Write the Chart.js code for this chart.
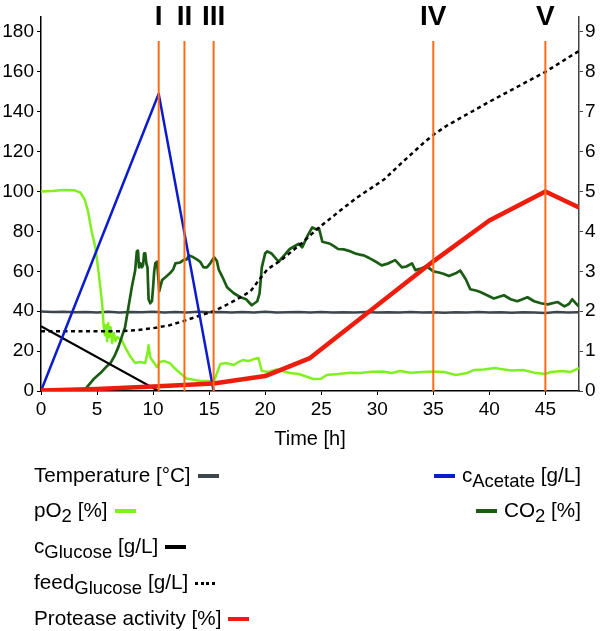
<!DOCTYPE html>
<html>
<head>
<meta charset="utf-8">
<script src="https://cdn.jsdelivr.net/npm/chart.js@4.4.1/dist/chart.umd.min.js"></script>
<style>
  html,body{margin:0;padding:0;background:#fff;}
  #wrap{position:relative;width:600px;height:631px;overflow:hidden;font-family:"Liberation Sans",Arial,Helvetica,sans-serif;color:#000;}
  canvas{position:absolute;left:0;top:0;}
  .lg{position:absolute;font-size:20.7px;line-height:20px;white-space:nowrap;}
  .s{font-size:18.5px;position:relative;top:5px;}
  .sw{display:inline-block;width:21px;height:4px;vertical-align:4px;}
  .ml{margin-left:7px;}
  .mr{margin-right:7px;}
  .dot{height:3px;vertical-align:4px;background:repeating-linear-gradient(90deg,#000 0 3px,transparent 3px 5.5px);}
</style>
</head>
<body>
<div id="wrap">
<canvas id="c" width="600" height="631"></canvas>
<div class="lg" style="left:34px;top:465px">Temperature [°C]<span class="sw ml" style="background:#3e464c"></span></div>
<div class="lg" style="left:34px;top:500px">pO<span class="s">2</span> [%]<span class="sw ml" style="background:#80f020"></span></div>
<div class="lg" style="left:34px;top:536px">c<span class="s">Glucose</span> [g/L]<span class="sw ml" style="background:#000"></span></div>
<div class="lg" style="left:34px;top:572px">feed<span class="s">Glucose</span> [g/L]<span class="sw ml dot"></span></div>
<div class="lg" style="left:34px;top:608px">Protease activity [%]<span class="sw ml" style="background:#ee1c0c"></span></div>
<div class="lg" style="right:19px;top:465px;text-align:right"><span class="sw mr" style="background:#0c1ccc"></span>c<span class="s">Acetate</span> [g/L]</div>
<div class="lg" style="right:19px;top:500px;text-align:right"><span class="sw mr" style="background:#1b5c14"></span>CO<span class="s">2</span> [%]</div>
</div>
<script>
// ---- axis ticks ----
const xTicks = [0,5,10,15,20,25,30,35,40,45];
const yTicks = [0,20,40,60,80,100,120,140,160,180];
const y1Ticks = [0,1,2,3,4,5,6,7,8,9];

// ---- process phases ----
const eventTimes = [10.5, 12.8, 15.4, 35, 45];
const eventLabels = ['I','II','III','IV','V'];
const eventTop = 175.5;

// ---- left axis series [t, value] ----
const temperature = [[0,39.8],[1,39.6],[2,39.7],[3,39.5],[4,39.6],[5,39.4],[6,39.7],[7,39.3],[8,39.6],[9,39.5],[10,39.7],[11,39.4],[12,39.6],[13,39.3],[14,39.7],[15,39.5],[16,39.6],[17,39.3],[18,39.6],[19,39.4],[20,39.7],[21,39.3],[22,39.5],[23,39.6],[24,39.3],[25,39.6],[26,39.4],[27,39.5],[28,39.3],[29,39.6],[30,39.4],[31,39.5],[32,39.3],[33,39.6],[34,39.4],[35,39.5],[36,39.2],[37,39.5],[38,39.3],[39,39.6],[40,39.4],[41,39.5],[42,39.2],[43,39.5],[44,39.3],[45,39.1],[46,39.6],[47,39.3],[48,39.5]];
const pO2 = [[0,100],[1,100.3],[2,100.8],[3,100.6],[3.5,99.5],[3.9,96],[4.2,90],[4.5,80.5],[4.85,72],[5.15,59],[5.45,44],[5.6,32],[5.7,28],[5.8,33],[5.9,25],[6.0,34],[6.1,27],[6.2,32],[6.35,24],[6.5,29],[6.65,25],[6.8,27],[7.2,25.5],[7.6,21],[8,17],[8.4,14],[8.8,14.5],[9.3,14],[9.5,19],[9.6,23],[9.75,17],[9.9,15.5],[10.35,12],[10.65,14.7],[11.0,15],[11.5,14],[12.0,11],[12.4,9],[13,6.3],[14.2,5],[15.25,5],[15.4,4.5],[15.7,9],[16,13.5],[16.5,14],[17.2,13],[17.6,14.5],[18,15.5],[18.5,15],[19,16],[19.4,16.5],[19.7,10],[20.3,9.5],[21,10.8],[22.2,9],[23,8.5],[24.3,6],[25,6.2],[25.5,8],[26.5,8.5],[27.6,9.2],[28.5,9],[29.5,9.6],[30.5,9.8],[31.3,9],[32,10],[33,9.2],[34,9.5],[35,9.8],[36,9.5],[37,8],[38,9],[38.6,10.5],[39.5,10.8],[40.5,11.5],[41,11],[42,10.3],[43,10.5],[44,9.2],[45,8.5],[45.5,9.5],[46.5,10],[47.2,9.5],[48,11.5]];
const cGlucose = [[0,32.5],[10.4,0.3]];
const protease = [[0,0.3],[5,1],[10,2.3],[15.4,3.8],[20,7.5],[24,16.5],[35,65],[40,85.5],[45,100],[48,92]];

// ---- right axis series [t, value] ----
const cAcetate = [[0,0],[10.5,7.45],[15.4,0]];
const feedGlucose = [[0,1.5],[7,1.5],[8.5,1.525],[10,1.575],[11.5,1.65],[12.7,1.75],[14,1.875],[15.4,2.0],[16.5,2.15],[17.5,2.3],[18.7,2.5],[19.5,2.8],[20.2,3.05],[21.4,3.275],[23.2,3.69],[24.6,4.05],[26.7,4.525],[28.2,4.85],[30.6,5.3],[32.4,5.775],[34.2,6.235],[35.1,6.44],[36.2,6.65],[40,7.25],[45,8.0],[48,8.525]];
const co2 = [[3.9,0],[4.1,0.1],[4.7,0.3],[5.3,0.45],[5.8,0.6],[6.2,0.7],[6.6,0.9],[6.9,1.1],[7.2,1.35],[7.5,1.6],[7.8,2.1],[8.1,2.6],[8.4,3.02],[8.55,3.5],[8.65,3.52],[8.75,3.1],[8.86,3.2],[9.0,3.1],[9.1,3.15],[9.2,3.45],[9.3,3.45],[9.4,3.2],[9.5,3.1],[9.6,2.3],[9.75,2.2],[9.9,2.25],[10.0,2.6],[10.1,3.0],[10.2,3.2],[10.35,3.24],[10.45,2.9],[10.55,2.5],[10.8,2.78],[11.1,2.85],[11.5,2.95],[11.8,3.05],[12,3.2],[12.4,3.22],[12.7,3.28],[13.0,3.3],[13.2,3.4],[13.6,3.35],[13.9,3.3],[14.2,3.24],[14.5,3.1],[14.8,3.1],[15.1,3.2],[15.45,3.35],[15.7,3.25],[15.85,3.05],[16.2,2.85],[16.6,2.6],[17.2,2.45],[17.8,2.35],[18.3,2.3],[18.8,2.15],[19.3,2.25],[19.5,2.45],[19.7,3.1],[20.0,3.45],[20.2,3.5],[20.6,3.44],[21.2,3.24],[21.7,3.4],[22.2,3.56],[23,3.69],[23.3,3.6],[23.8,3.9],[24.2,4.1],[24.6,4.05],[24.8,4.08],[25.1,3.74],[25.8,3.69],[26.2,3.62],[26.5,3.56],[27,3.55],[27.4,3.52],[28,3.45],[28.4,3.42],[28.8,3.4],[29.1,3.36],[29.5,3.3],[30,3.22],[30.4,3.15],[31,3.2],[31.6,3.28],[32.2,3.1],[32.6,3.12],[33.1,3.2],[33.4,3.03],[33.8,3.06],[34.4,3.13],[35,3.0],[35.5,2.97],[35.9,2.94],[36.4,2.88],[37,2.95],[37.4,3.02],[37.9,2.8],[38.3,2.55],[38.8,2.52],[39.2,2.48],[39.8,2.4],[40.4,2.32],[41.3,2.4],[41.9,2.3],[42.5,2.25],[43.4,2.35],[44,2.25],[44.6,2.2],[45.2,2.17],[46.1,2.23],[46.7,2.12],[47.1,2.18],[47.4,2.3],[47.7,2.2],[48,2.12]];

const xy = a => a.map(p => ({x:p[0], y:p[1]}));
const FONT = '"Liberation Sans", Arial, Helvetica, sans-serif';

function line(data, color, width, axis, extra) {
  return Object.assign({data: xy(data), borderColor: color, backgroundColor: color, borderWidth: width,
    yAxisID: axis, pointRadius: 0, tension: 0, fill: false, borderJoinStyle: 'round'}, extra || {});
}

const markerSets = eventTimes.map(t => line([[t,0],[t,eventTop]], '#ff6b16', 2, 'y'));

const datasets = [
  ...markerSets,
  line(protease, '#ee1c0c', 4.5, 'y'),
  line(cAcetate, '#0c1ccc', 2.5, 'y1'),
  line(cGlucose, '#000000', 2.2, 'y'),
  line(feedGlucose, '#000000', 2.5, 'y1', {borderDash:[4,3.5], borderCapStyle:'butt'}),
  line(co2, '#1b5c14', 2.7, 'y1'),
  line(pO2, '#80f020', 2.5, 'y'),
  line(temperature, '#3e464c', 2.5, 'y'),
];

const romanPlugin = {
  id: 'roman',
  afterDraw(chart) {
    const ctx = chart.ctx, xs = chart.scales.x;
    ctx.save();
    ctx.font = 'bold 28px ' + FONT;
    ctx.fillStyle = '#000';
    ctx.textAlign = 'center';
    ctx.textBaseline = 'alphabetic';
    eventTimes.forEach((t, i) => ctx.fillText(eventLabels[i], xs.getPixelForValue(t), 25));
    ctx.restore();
  }
};

function setTicks(arr) { return s => { s.ticks = arr.map(v => ({value: v})); }; }

new Chart(document.getElementById('c'), {
  type: 'line',
  data: { datasets },
  plugins: [romanPlugin],
  options: {
    responsive: false,
    devicePixelRatio: 1,
    animation: false,
    events: [],
    layout: { padding: { top: 17, bottom: 180, left: 0, right: 0 } },
    plugins: { legend: { display: false }, tooltip: { enabled: false } },
    scales: {
      x: {
        type: 'linear', min: 0, max: 48,
        afterBuildTicks: setTicks(xTicks),
        afterFit: s => { s.height = 60; },
        grid: { drawOnChartArea: false, drawTicks: true, tickLength: 4, tickColor: '#000', tickWidth: 1 },
        border: { display: true, color: '#000', width: 1.5 },
        ticks: { font: { family: FONT, size: 19 }, color: '#000', padding: 3, maxRotation: 0, autoSkip: false },
        title: { display: true, text: 'Time [h]', font: { family: FONT, size: 20 }, color: '#000', padding: { top: 0, bottom: 0 } }
      },
      y: {
        type: 'linear', position: 'left', min: 0, max: 187.5,
        afterBuildTicks: setTicks(yTicks),
        afterFit: s => { s.width = 41; },
        grid: { drawOnChartArea: false, drawTicks: true, tickLength: 4, tickColor: '#000', tickWidth: 1 },
        border: { display: true, color: '#000', width: 1.5 },
        ticks: { font: { family: FONT, size: 19 }, color: '#000', padding: 3 }
      },
      y1: {
        type: 'linear', position: 'right', min: 0, max: 9.375,
        afterBuildTicks: setTicks(y1Ticks),
        afterFit: s => { s.width = 21; },
        grid: { drawOnChartArea: false, drawTicks: true, tickLength: 4, tickColor: '#444', tickWidth: 1 },
        border: { display: true, color: '#444', width: 1.5 },
        ticks: { font: { family: FONT, size: 19 }, color: '#000', padding: 2 }
      }
    }
  }
});
</script>
</body>
</html>
